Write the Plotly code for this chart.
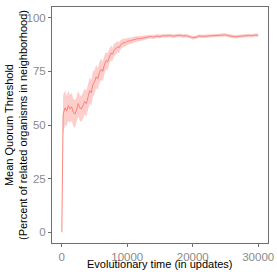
import plotly.graph_objects as go

updates = [0, 200, 500, 750, 1000, 1250, 1500, 1750, 2000, 2250, 2500, 2750, 3000, 3250, 3500, 3750,
           4000, 4250, 4500, 4750, 5000, 5250, 5500, 5750, 6000, 6250, 6500, 6750, 7000, 7250, 7500,
           7750, 8000, 8250, 8500, 8750, 9000, 9250, 9500, 9750, 10000, 10500, 11000, 11500, 12000,
           12500, 13000, 13500, 14000, 14500, 15000, 15500, 16000, 16500, 17000, 17500, 18000, 18500,
           19000, 19500, 20000, 20500, 21000, 21500, 22000, 22500, 23000, 23500, 24000, 24500, 25000,
           25500, 26000, 26500, 27000, 27500, 28000, 28500, 29000, 29500, 30000]

mean_threshold = [0, 55, 58, 56.5, 59, 57.5, 58.5, 56, 55, 57, 60, 58, 57.5, 59, 61, 60,
                  63.5, 66, 65, 69, 70, 72.5, 71.5, 74.5, 76, 75, 78, 80, 79.5, 82, 83.5,
                  83, 85, 85.5, 86.5, 86, 87.5, 88, 88.5, 88.3, 89, 89.3, 89.8, 90.2, 90.3,
                  90.7, 90.8, 91.2, 91.0, 91.4, 91.3, 91.6, 91.5, 91.7, 91.4, 91.6, 91.8, 91.5,
                  91.6, 91.2, 90.7, 90.9, 91.5, 91.3, 91.4, 91.2, 91.5, 91.4, 91.7, 91.9, 92.0,
                  91.6, 91.3, 91.1, 91.3, 91.5, 91.4, 91.7, 91.6, 91.9, 91.8]

half_width = [0, 9, 8, 7, 7, 6.5, 6.5, 6.5, 6.5, 6, 6, 6, 6, 6, 6, 6,
              6, 6, 6, 6, 5.5, 5.5, 5, 5, 5, 4.5, 4.5, 4, 4, 3.5, 3.5,
              3, 3, 2.8, 2.6, 2.4, 2.2, 2, 1.9, 1.8, 1.7, 1.5, 1.4, 1.3, 1.2,
              1.1, 1.0, 0.9, 0.9, 0.9, 0.9, 0.8, 0.8, 0.8, 0.8, 0.8, 0.8, 0.8,
              0.8, 0.8, 0.8, 0.8, 0.8, 0.8, 0.8, 0.8, 0.8, 0.8, 0.8, 0.8, 0.8,
              0.8, 0.8, 0.8, 0.8, 0.8, 0.8, 0.8, 0.8, 0.8, 0.8]

lower = [m - h for m, h in zip(mean_threshold, half_width)]
upper = [m + h for m, h in zip(mean_threshold, half_width)]

x_ticks = [0, 10000, 20000, 30000]
y_ticks = [0, 25, 50, 75, 100]

FONT = "Liberation Sans, Arial, sans-serif"
TICKCOL = "#8a8a8a"
LINECOL = "#6e6e6e"

fig = go.Figure()
fig.add_trace(go.Scatter(x=updates, y=lower, mode="lines", line=dict(width=0),
                         showlegend=False, hoverinfo="skip"))
fig.add_trace(go.Scatter(x=updates, y=upper, mode="lines", line=dict(width=0),
                         fill="tonexty", fillcolor="rgba(248,118,109,0.35)",
                         showlegend=False, hoverinfo="skip"))
fig.add_trace(go.Scatter(x=updates, y=mean_threshold, mode="lines",
                         line=dict(color="rgba(248,118,109,0.85)", width=1),
                         showlegend=False))

fig.update_layout(
    width=277, height=272,
    margin=dict(l=52, r=9, t=7, b=29, autoexpand=False),
    paper_bgcolor="white", plot_bgcolor="white",
    font=dict(family=FONT, size=11, color="black"),
    xaxis=dict(range=[-1500, 31500], tickvals=x_ticks, ticktext=[str(v) for v in x_ticks],
               automargin=False,
               showgrid=False, zeroline=False, showline=True, mirror=True,
               linecolor=LINECOL, linewidth=1, ticks="outside", ticklen=3,
               tickcolor=LINECOL, tickfont=dict(size=11.5, color=TICKCOL, family=FONT)),
    yaxis=dict(range=[-5, 105], tickvals=y_ticks, ticktext=[str(v) for v in y_ticks],
               automargin=False,
               showgrid=False, zeroline=False, showline=True, mirror=True,
               linecolor=LINECOL, linewidth=1, ticks="outside", ticklen=3,
               tickcolor=LINECOL, tickfont=dict(size=11.5, color=TICKCOL, family=FONT)),
    annotations=[
        dict(text="Evolutionary time (in updates)", xref="paper", yref="paper",
             x=0.5, y=0, yshift=-13, xanchor="center", yanchor="top", showarrow=False,
             font=dict(size=11, color="black", family=FONT)),
        dict(text="Mean Quorum Threshold<br>(Percent of related organisms in neighborhood)",
             xref="paper", yref="paper", x=0, xshift=-36, y=0.5, xanchor="center",
             yanchor="middle", textangle=-90, showarrow=False,
             font=dict(size=11, color="black", family=FONT)),
    ],
)

fig.write_html("out.html", config={"displayModeBar": False},
               post_script="document.body.style.margin='0px';document.body.style.padding='0px';")
